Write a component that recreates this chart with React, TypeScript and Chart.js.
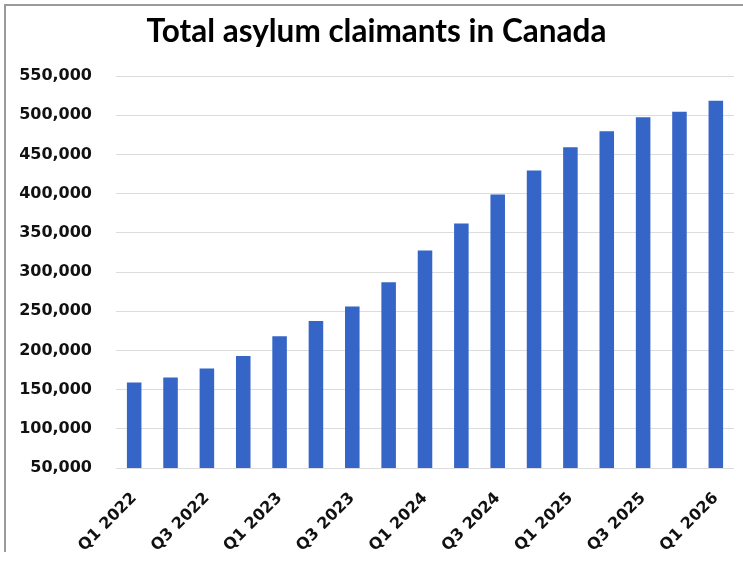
import React, { useEffect, useRef } from 'react';
import { Chart, registerables } from 'chart.js';

Chart.register(...registerables);

const chartTitle = 'Total asylum claimants in Canada';
const categories = [
  'Q1 2022', 'Q2 2022', 'Q3 2022', 'Q4 2022',
  'Q1 2023', 'Q2 2023', 'Q3 2023', 'Q4 2023',
  'Q1 2024', 'Q2 2024', 'Q3 2024', 'Q4 2024',
  'Q1 2025', 'Q2 2025', 'Q3 2025', 'Q4 2025',
  'Q1 2026',
];
const claimants = [
  159000, 165500, 177000, 193000,
  218000, 237500, 256000, 287000,
  327500, 362000, 399000, 429500,
  459000, 479500, 497500, 504500,
  518500,
];
const yMin = 50000;
const yMax = 550000;
const yStep = 50000;

export default function App() {
  const canvasRef = useRef<HTMLCanvasElement | null>(null);

  useEffect(() => {
    const canvas = canvasRef.current;
    if (!canvas) return;
    const chart = new Chart(canvas, {
      type: 'bar',
      data: {
        labels: categories,
        datasets: [
          {
            label: 'Total asylum claimants',
            data: claimants,
            backgroundColor: '#3565C6',
            borderWidth: 0,
            barPercentage: 0.4,
            categoryPercentage: 1,
          },
        ],
      },
      options: {
        responsive: false,
        animation: false,
        devicePixelRatio: 1,
        layout: { padding: { left: 19, right: 9, top: 0, bottom: 0 } },
        plugins: {
          legend: { display: false },
          tooltip: { enabled: false },
          title: {
            display: true,
            text: chartTitle,
            color: '#000',
            font: { family: 'Lato', weight: 'bold', size: 31.5, lineHeight: 1.2 },
            padding: { top: 13, bottom: 25.2 },
          },
        },
        scales: {
          x: {
            grid: { display: false, drawTicks: false },
            border: { display: false },
            ticks: {
              autoSkip: false,
              minRotation: 45,
              maxRotation: 45,
              padding: 21,
              color: '#111',
              font: { family: 'DejaVu Sans', weight: 'bold', size: 16 },
              callback: (_v: any, i: number) => (i % 2 === 0 ? categories[i] : ''),
            },
            afterFit: (scale: any) => {
              scale.height = 94;
              scale.paddingLeft = 0;
              scale.paddingRight = 0;
            },
          },
          y: {
            min: yMin,
            max: yMax,
            grid: { color: '#dcdcdc', lineWidth: 1, drawTicks: false },
            border: { display: false },
            ticks: {
              stepSize: yStep,
              padding: 24,
              color: '#111',
              font: { family: 'DejaVu Sans', weight: 'bold', size: 16 },
              callback: (v: any) => Number(v).toLocaleString('en-US'),
            },
            afterFit: (scale: any) => {
              scale.width = 97;
              scale.paddingTop = 0;
              scale.paddingBottom = 0;
            },
          },
        },
      },
    });
    return () => chart.destroy();
  }, []);

  return (
    <div style={{ position: 'absolute', left: 0, top: 0, width: 743, height: 562, background: '#fff' }}>
      <div
        style={{
          position: 'absolute',
          left: 4,
          top: 4,
          width: 739,
          height: 548,
          borderTop: '2px solid #9a9a9a',
          borderLeft: '2px solid #9a9a9a',
          boxSizing: 'border-box',
        }}
      />
      <canvas
        ref={canvasRef}
        width={743}
        height={562}
        style={{ position: 'absolute', left: 0, top: 0, width: 743, height: 562 }}
      />
    </div>
  );
}
